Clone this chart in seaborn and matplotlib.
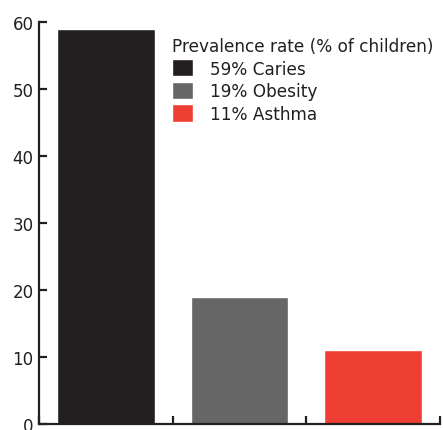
import pandas as pd
import matplotlib
matplotlib.use('Agg')
import matplotlib.pyplot as plt
import seaborn as sns

# Data
conditions = ['59% Caries', '19% Obesity', '11% Asthma']
prevalence = [59, 19, 11]
colors = ['#231F20', '#666666', '#EF3E33']
y_ticks = [0, 10, 20, 30, 40, 50, 60]

df = pd.DataFrame({'condition': conditions, 'prevalence': prevalence})

sns.set_style('white')
plt.rcParams['font.family'] = ['DejaVu Sans']

fig = plt.figure(figsize=(4.43, 4.31), dpi=100)
ax = fig.add_axes([39 / 443, 6 / 431, 401 / 443, 402 / 431])

sns.barplot(data=df, x='condition', y='prevalence', hue='condition',
            palette=dict(zip(conditions, colors)), width=0.73,
            saturation=1, legend=True, ax=ax)

ax.set_xlim(-0.5, 2.5)
ax.set_ylim(0, 60)
ax.set_yticks(y_ticks)
ax.set_xticks([-0.5, 0.5, 1.5, 2.5])
ax.set_xticklabels([])
ax.set_xlabel('')
ax.set_ylabel('')

for side in ['top', 'right']:
    ax.spines[side].set_visible(False)
for side in ['left', 'bottom']:
    ax.spines[side].set_color('#231F20')
    ax.spines[side].set_linewidth(1.6)

ax.tick_params(axis='y', left=True, direction='in', length=6, width=1.6,
               color='#231F20', labelsize=12, labelcolor='#231F20', pad=4)
ax.tick_params(axis='x', bottom=True, direction='in', length=6, width=1.6,
               color='#231F20')
for t in ax.xaxis.get_major_ticks():
    t.tick1line.set_clip_on(False)

handles, labels = ax.get_legend_handles_labels()
leg = ax.legend(handles, labels, title='Prevalence rate (% of children)',
                loc='upper left', bbox_to_anchor=(0.331, 0.963), frameon=False,
                fontsize=12.2, title_fontsize=12.2, borderpad=0, borderaxespad=0,
                handlelength=1.25, handleheight=1.2, handletextpad=1.0,
                labelspacing=0.25, alignment='left')
for t in leg.get_texts():
    t.set_color('#231F20')
leg.get_title().set_color('#231F20')

fig.savefig('out.png', dpi=100)
